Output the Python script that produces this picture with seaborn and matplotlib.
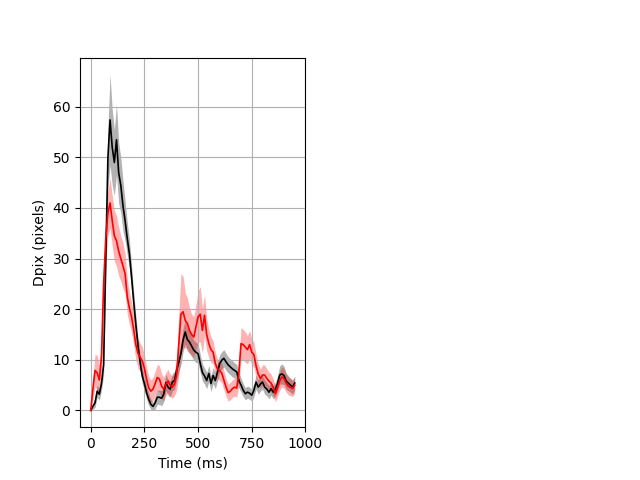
import numpy as np
import matplotlib
matplotlib.use("Agg")
import matplotlib.pyplot as plt
import seaborn as sns

time_ms = list(range(0, 960, 10))

black_mean = [0.0, 0.8, 1.5, 3.8, 3.2, 5.3, 9.0, 30.0, 50.0, 57.4,
              52.0, 49.0, 53.5, 47.0, 44.5, 40.5, 37.5, 34.0, 31.0, 26.4,
              21.5, 17.0, 12.8, 9.5, 6.8, 5.3, 3.5, 2.2, 1.2, 0.8,
              1.5, 2.6, 2.6, 2.4, 3.2, 5.5, 4.6, 4.2, 5.6, 5.9,
              7.9, 9.5, 11.2, 13.9, 15.5, 14.0, 13.5, 12.7, 11.9, 11.5,
              11.2, 9.3, 7.5, 6.8, 5.9, 7.3, 5.3, 6.9, 5.9, 7.5,
              9.2, 9.9, 10.3, 9.6, 9.0, 8.6, 8.2, 7.9, 7.6, 5.9,
              5.0, 4.0, 3.3, 3.6, 3.4, 3.0, 4.0, 5.6, 4.6, 5.2,
              5.6, 4.6, 4.2, 3.6, 4.3, 3.6, 4.2, 5.3, 7.0, 7.2,
              6.9, 5.8, 5.4, 5.0, 4.6, 5.4]

black_err = [0.0, 0.6, 0.9, 1.2, 1.2, 1.3, 2.0, 4.0, 6.0, 9.0,
             7.5, 6.5, 7.0, 6.0, 5.5, 5.0, 4.0, 3.2, 2.8, 2.4,
             2.0, 1.8, 1.6, 1.5, 1.5, 1.4, 1.3, 1.2, 1.0, 0.8,
             1.2, 1.4, 1.4, 1.5, 1.5, 1.6, 1.6, 1.6, 1.7, 1.8,
             1.9, 2.0, 2.2, 2.3, 2.4, 2.3, 2.2, 2.1, 2.0, 2.0,
             1.9, 1.8, 1.7, 1.6, 1.6, 1.6, 1.6, 1.6, 1.6, 1.7,
             1.7, 1.7, 1.7, 1.7, 1.6, 1.6, 1.6, 1.5, 1.5, 1.5,
             1.4, 1.3, 1.2, 1.2, 1.2, 1.2, 1.3, 1.4, 1.4, 1.4,
             1.4, 1.4, 1.3, 1.3, 1.3, 1.3, 1.4, 1.5, 1.8, 2.0,
             1.8, 1.6, 1.5, 1.4, 1.4, 1.4]

red_mean = [0.0, 4.2, 7.9, 7.4, 6.0, 10.6, 25.0, 34.0, 39.0, 41.0,
            37.5, 34.5, 33.5, 31.5, 30.0, 28.6, 27.0, 22.5, 20.2, 18.5,
            16.0, 13.0, 11.3, 10.5, 9.8, 8.3, 6.2, 4.5, 3.8, 4.2,
            5.3, 6.5, 6.2, 4.8, 4.2, 5.2, 5.8, 5.0, 4.6, 5.2,
            7.0, 13.0, 19.0, 19.5, 17.8, 17.2, 15.8, 15.0, 14.5, 16.5,
            18.5, 19.0, 15.8, 18.8, 15.0, 13.2, 12.0, 11.5, 9.3, 8.2,
            7.9, 7.4, 6.0, 4.6, 3.5, 3.8, 4.3, 4.6, 4.4, 7.5,
            13.2, 13.0, 12.5, 12.0, 13.0, 11.5, 11.0, 8.8, 7.2, 6.3,
            7.0, 7.0, 6.3, 5.8, 5.4, 4.5, 3.3, 4.5, 5.8, 6.6,
            6.3, 5.4, 4.8, 4.6, 4.3, 5.0]

red_err = [0.0, 2.0, 3.2, 3.5, 3.0, 3.0, 4.0, 4.5, 4.5, 5.0,
           5.0, 5.0, 5.0, 4.8, 4.5, 4.5, 4.0, 3.5, 3.2, 3.0,
           3.0, 3.0, 3.0, 2.8, 2.8, 2.6, 2.4, 2.2, 2.2, 2.3,
           2.5, 2.6, 2.6, 2.5, 2.3, 2.3, 2.3, 2.2, 2.2, 2.3,
           3.0, 6.0, 8.0, 7.0, 5.5, 5.0, 4.5, 4.0, 4.0, 4.5,
           5.0, 5.5, 4.5, 4.0, 3.2, 2.8, 2.5, 2.3, 2.2, 2.0,
           2.0, 2.0, 1.9, 1.8, 1.7, 1.7, 1.7, 1.8, 1.8, 2.5,
           3.2, 3.0, 3.0, 2.8, 2.8, 2.6, 2.5, 2.3, 2.0, 1.9,
           2.0, 2.0, 1.9, 1.8, 1.8, 1.7, 1.6, 1.7, 1.9, 2.0,
           1.9, 1.8, 1.7, 1.7, 1.6, 1.6]

t = np.array(time_ms)
bm, be = np.array(black_mean), np.array(black_err)
rm, re = np.array(red_mean), np.array(red_err)

fig = plt.figure(figsize=(6.4, 4.8), dpi=100)
ax = fig.add_subplot(1, 2, 1)

ax.fill_between(t, bm - be, bm + be, color="k", alpha=0.3, linewidth=0)
ax.fill_between(t, rm - re, rm + re, color="r", alpha=0.3, linewidth=0)
sns.lineplot(x=t, y=bm, color="k", linewidth=1.2, ax=ax)
sns.lineplot(x=t, y=rm, color="r", linewidth=1.2, ax=ax)

ax.set_xlim(-50, 1000)
ax.set_xticks([0, 250, 500, 750, 1000])
ax.grid(True)
ax.set_xlabel("Time (ms)")
ax.set_ylabel("Dpix (pixels)")

fig.savefig("out.png", dpi=100)
